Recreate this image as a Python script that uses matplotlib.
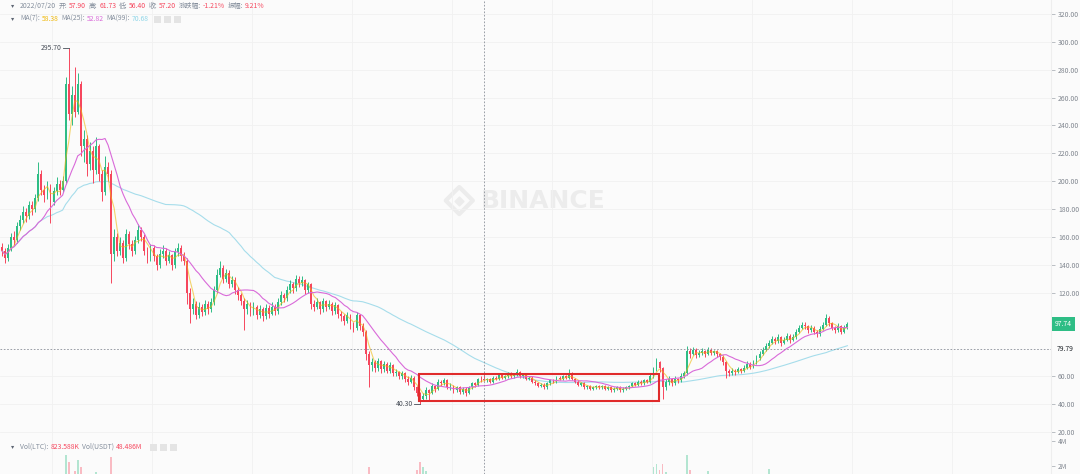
import numpy as np
import pandas as pd
import matplotlib
matplotlib.use("Agg")
import matplotlib.pyplot as plt
from matplotlib.patches import Rectangle

plt.rcParams['font.family'] = ['Noto Sans CJK SC', 'DejaVu Sans']

W, H = 1080, 474
GREEN = '#2EBD85'
RED = '#F6465D'
GRAY = '#848E9C'
BG = '#FBFBFB'

# daily-ish LTC/USDT candles (open = previous close)
first_open = 153.0
closes = [
    150, 145, 152, 160, 158, 168, 172, 178, 175, 183,
    180, 188, 205, 194, 190, 196, 185, 193, 198, 194,
    200, 270, 248, 262, 250, 270, 225, 230, 212, 222,
    208, 225, 205, 192, 210, 205, 148, 160, 150, 156,
    145, 162, 155, 150, 158, 165, 160, 150, 145, 152,
    146, 140, 148, 150, 143, 147, 140, 149, 152, 146,
    143, 120, 108, 112, 104, 110, 106, 112, 108, 113,
    122, 133, 138, 130, 134, 126, 129, 122, 118, 114,
    108, 112, 106, 110, 104, 108, 103, 109, 105, 110,
    107, 113, 118, 116, 122, 126, 123, 130, 127, 129,
    122, 126, 112, 110, 113, 108, 114, 110, 112, 107,
    111, 105, 103, 100, 104, 97, 95, 104, 96, 92,
    76, 68, 70, 66, 71, 65, 69, 64, 68, 62,
    63, 60, 62, 58, 56, 59, 52, 48, 44, 46,
    50, 48, 53, 51, 56, 55, 57, 52, 53, 50,
    52, 49, 51, 48, 52, 55, 54, 58, 57.9, 57.2,
    58, 56, 59, 58, 61, 59, 60, 62, 60, 61,
    63, 60, 61, 58, 59, 56, 55, 53, 54, 52,
    55, 57, 56, 59, 58, 60, 59, 62, 58, 56,
    54, 55, 52, 53, 51, 52, 53, 52, 53, 51,
    52, 50, 51, 52, 50, 51, 52, 53, 55, 54,
    56, 55, 57, 56, 60, 65, 70, 66, 52, 56,
    58, 55, 58, 57, 60, 62, 78, 76, 79, 75,
    77, 78, 76, 79, 77, 78, 76, 74, 70, 64,
    62, 64, 63, 65, 64, 66, 69, 67, 70, 73,
    76, 79, 82, 84, 87, 85, 88, 84, 86, 89,
    86, 88, 92, 95, 97, 96, 93, 95, 92, 90,
    94, 97, 102, 98, 95, 93, 96, 92, 95, 97.74,
]
highs = [
    156, 152, 155, 163, 164, 171, 176, 182, 181, 186,
    186, 191, 214, 208, 197, 200, 198, 196, 203, 201,
    204, 275, 295.7, 268, 282, 278, 272, 237, 233, 228,
    225, 232, 227, 208, 218, 214, 208, 166, 163, 160,
    158, 166, 164, 158, 161, 169, 167, 162, 153, 155,
    154, 148, 151, 154, 152, 150, 148, 152, 156, 154,
    149, 145, 123, 116, 114, 113, 112, 115, 114, 116,
    125, 137, 143, 140, 137, 136, 132, 131, 124, 120,
    116, 115, 113, 113, 111, 111, 110, 112, 111, 113,
    112, 116, 121, 120, 125, 129, 128, 133, 132, 132,
    130, 128, 127, 115, 116, 114, 116, 115, 115, 113,
    113, 112, 107, 105, 106, 105, 99, 106, 105, 98,
    93, 78, 73, 72, 73, 72, 71, 70, 70, 69,
    65, 64, 64, 63, 60, 61, 60, 53, 49, 48,
    52, 51, 55, 54, 58, 57, 59, 58, 55, 54,
    53, 53, 52, 52, 53, 56, 56, 59, 60, 61.73,
    59, 59, 60, 60, 62, 62, 61, 63, 63, 62,
    65, 64, 62, 62, 60, 60, 57, 56, 55, 55,
    56, 58, 58, 60, 60, 61, 61, 65.5, 63, 59,
    57, 56, 56, 54, 54, 53, 54, 54, 54, 54,
    53, 53, 52, 53, 53, 52, 53, 54, 56, 56,
    57, 57, 58, 58, 62, 67, 73, 71, 67, 58,
    60, 59, 60, 59, 62, 64, 82, 80, 81, 80,
    79, 80, 79, 81, 80, 79, 79, 77, 75, 71,
    65, 66, 65, 67, 66, 68, 71, 70, 72, 75,
    78, 81, 84, 86, 89, 88, 90, 89, 88, 91,
    90, 90, 94, 97, 99, 99, 97, 97, 96, 93,
    96, 99, 104.5, 103, 99, 96, 98, 97, 97, 99,
]
lows = [
    146, 141, 143, 150, 154, 156, 165, 170, 171, 173,
    176, 178, 186, 190, 185, 187, 170, 183, 190, 190,
    192, 198, 244, 240, 246, 248, 218, 214, 204, 208,
    199, 205, 200, 186, 190, 200, 127, 143, 146, 147,
    141, 143, 151, 146, 148, 156, 157, 147, 141, 143,
    143, 136, 138, 145, 140, 141, 136, 138, 146, 143,
    140, 112, 98, 105, 101, 102, 103, 104, 105, 106,
    111, 120, 131, 127, 128, 123, 124, 119, 115, 111,
    93, 105, 103, 104, 101, 102, 100, 101, 102, 104,
    104, 105, 111, 113, 114, 120, 120, 121, 124, 125,
    119, 120, 108, 107, 108, 105, 106, 107, 108, 104,
    105, 102, 100, 97, 98, 94, 92, 93, 93, 89,
    72, 52, 64, 63, 64, 62, 63, 62, 62, 60,
    60, 58, 58, 56, 54, 55, 50, 46, 40.3, 42,
    44, 43, 47, 49, 50, 53, 54, 51, 50, 48,
    49, 47, 47, 46, 47, 51, 52, 53, 56, 56.4,
    56, 55, 55, 57, 57, 58, 58, 59, 59, 59,
    60, 59, 59, 57, 57, 55, 54, 52, 52, 51,
    51, 54, 55, 55, 57, 57, 58, 58, 57, 55,
    53, 53, 51, 51, 50, 50, 51, 51, 51, 50,
    50, 49, 49, 50, 49, 49, 50, 51, 52, 53,
    53, 54, 54, 55, 55, 59, 64, 63, 44, 50,
    54, 53, 54, 55, 56, 59, 61, 73, 75, 73,
    74, 75, 74, 75, 75, 75, 74, 72, 68, 59,
    60, 61, 61, 62, 62, 63, 65, 65, 66, 69,
    72, 75, 78, 80, 83, 83, 84, 82, 83, 85,
    84, 85, 87, 91, 94, 94, 91, 92, 90, 88,
    89, 93, 96, 96, 93, 91, 92, 90, 91, 94,
]
# volume in millions of LTC
volume = [
    0.9, 0.8, 0.9, 1.0, 0.8, 1.1, 1.0, 1.2, 0.9, 1.1, 0.9, 1.0, 1.3, 1.1, 0.9, 0.8, 1.2, 0.9, 1.0, 0.9,
    1.0, 2.9, 2.3, 1.4, 1.6, 2.5, 1.9, 1.2, 1.3, 1.0, 1.1, 1.5, 1.0, 1.1, 1.0, 0.9, 2.7, 1.4, 1.0, 0.9,
    0.9, 1.0, 0.8, 0.7, 0.8, 0.9, 0.8, 0.9, 0.8, 0.7, 0.8, 0.9, 0.8, 0.7, 0.8, 0.7, 0.9, 0.8, 0.7, 0.8,
    0.9, 1.2, 1.3, 1.0, 0.9, 0.8, 0.7, 0.8, 0.7, 0.8, 0.9, 1.0, 1.1, 0.9, 0.8, 0.8, 0.7, 0.8, 0.8, 0.9,
    1.1, 0.8, 0.7, 0.8, 0.7, 0.7, 0.8, 0.7, 0.7, 0.8, 0.7, 0.8, 0.9, 0.8, 0.9, 1.0, 0.8, 1.0, 0.9, 0.8,
    0.9, 0.8, 1.1, 0.9, 0.8, 0.8, 0.7, 0.8, 0.7, 0.7, 0.8, 0.8, 0.9, 0.9, 0.8, 1.0, 0.9, 1.0, 0.9, 1.1,
    1.3, 1.9, 1.2, 1.0, 0.9, 1.0, 0.8, 0.9, 0.8, 0.9, 0.8, 0.9, 0.8, 0.9, 1.0, 0.9, 1.2, 1.7, 2.3, 1.9,
    1.6, 1.2, 1.1, 1.0, 1.1, 0.9, 0.9, 1.0, 0.9, 0.8, 0.8, 0.9, 0.8, 0.9, 0.8, 0.9, 0.8, 1.0, 0.9, 0.82,
    0.8, 0.9, 0.8, 0.7, 0.9, 0.8, 0.7, 0.8, 0.7, 0.7, 0.9, 0.8, 0.7, 0.8, 0.7, 0.8, 0.8, 0.9, 0.7, 0.8,
    0.8, 0.7, 0.7, 0.8, 0.7, 0.8, 0.7, 1.0, 0.9, 0.8, 0.8, 0.7, 0.8, 0.7, 0.7, 0.6, 0.7, 0.6, 0.7, 0.6,
    0.6, 0.7, 0.6, 0.7, 0.6, 0.6, 0.7, 0.7, 0.8, 0.7, 0.9, 0.8, 0.9, 0.8, 1.2, 1.9, 2.2, 1.7, 2.2, 1.5,
    1.1, 1.0, 0.9, 0.9, 1.0, 1.1, 2.9, 1.7, 1.3, 1.1, 1.0, 1.0, 0.9, 1.6, 0.9, 0.8, 0.8, 0.9, 1.0, 1.2,
    1.0, 0.9, 0.8, 0.8, 0.8, 0.8, 0.9, 0.8, 0.9, 1.0, 1.1, 1.1, 1.2, 1.8, 1.3, 1.1, 1.0, 1.0, 0.9, 1.0,
    0.9, 0.9, 1.0, 1.1, 1.1, 1.0, 0.9, 0.9, 0.9, 0.8, 0.9, 1.0, 1.2, 1.0, 0.9, 0.8, 0.8, 0.9, 0.8, 0.8,
]

price_ticks = [20, 40, 60, 120, 140, 160, 180, 200, 220, 240, 260, 280, 300, 320]
last_price = 97.74
cross_price = 79.79
cross_idx = 159
peak_idx, peak_val = 22, 295.70
low_idx, low_val = 138, 40.30
box_range = (137.6, 216.8, 42.2, 61.6)

closes = np.array(closes, float)
highs = np.array(highs, float)
lows = np.array(lows, float)
volume = np.array(volume, float)
opens = np.r_[first_open, closes[:-1]]
idx = np.arange(len(closes))
up = closes >= opens
colors = np.where(up, GREEN, RED)

FS = 4.9

fig = plt.figure(figsize=(W / 100, H / 100), dpi=100, facecolor=BG)
ax_w = 1051 / W
ax = fig.add_axes([0, 38 / H, ax_w, 436 / H], facecolor=BG)
axv = fig.add_axes([0, 0, ax_w, 38 / H], facecolor=BG, sharex=ax)

# candles
ax.vlines(idx, lows, highs, colors=colors, lw=0.7, zorder=3)
ax.bar(idx, np.maximum(np.abs(closes - opens), 0.35), bottom=np.minimum(opens, closes),
       width=0.62, color=colors, lw=0, zorder=4)

# moving averages (windows scaled to the candle spacing of this chart)
s = pd.Series(closes)
ax.plot(idx, s.rolling(4, min_periods=1).mean(), color='#F0B90B', lw=0.8, alpha=0.6, zorder=5)
ax.plot(idx, s.rolling(14, min_periods=1).mean(), color='#D96AD9', lw=0.8, zorder=5)
ax.plot(idx, s.rolling(55, min_periods=1).mean(), color='#A6DDEB', lw=0.8, zorder=2)

ax.set_xlim(-0.66, 346.2)
ax.set_ylim(17.13, 330.05)
ax.set_xticks(np.arange(16.5, 346, 33))
ax.yaxis.tick_right()
ax.set_yticks(price_ticks)
ax.set_yticklabels([f'{t:.2f}' for t in price_ticks])
ax.tick_params(axis='y', labelsize=FS, colors='#A0A5AD', labelcolor='#80868F', length=3, width=0.5, pad=2)
ax.tick_params(axis='x', length=0, labelbottom=False)
ax.grid(True, color='#F1F1F1', lw=0.6, zorder=0)
for sp in ['top', 'left', 'bottom']:
    ax.spines[sp].set_visible(False)
ax.spines['right'].set_color('#EEEEEE')

# volume pane
axv.bar(idx, volume, width=0.62, color=colors, alpha=0.35, lw=0)
axv.set_ylim(1.36, 4.4)
axv.yaxis.tick_right()
axv.set_yticks([2, 4])
axv.set_yticklabels(['2M', '4M'])
axv.tick_params(axis='y', labelsize=FS, colors='#A0A5AD', labelcolor='#80868F', length=3, width=0.5, pad=2)
axv.tick_params(axis='x', length=0, labelbottom=False)
axv.grid(True, axis='x', color='#F1F1F1', lw=0.6, zorder=0)
for sp in ['top', 'left', 'bottom']:
    axv.spines[sp].set_visible(False)
axv.spines['right'].set_color('#EEEEEE')

# crosshair
for a in (ax, axv):
    a.axvline(cross_idx, color='#8A8F98', lw=0.6, ls=(0, (2, 2)), zorder=6)
ax.axhline(cross_price, color='#8A8F98', lw=0.6, ls=(0, (2, 2)), zorder=6)

# highlighted range
ax.add_patch(Rectangle((box_range[0], box_range[2]), box_range[1] - box_range[0],
                       box_range[3] - box_range[2], fill=False, ec='#E02B2B', lw=1.5, zorder=7))

# high / low markers
ax.plot([peak_idx - 2.0, peak_idx], [peak_val, peak_val], color='#474D57', lw=0.6, zorder=6)
ax.text(peak_idx - 2.2, peak_val, f'{peak_val:.2f}', ha='right', va='center', fontsize=FS, color='#474D57')
ax.plot([low_idx - 2.0, low_idx], [low_val, low_val], color='#474D57', lw=0.6, zorder=6)
ax.text(low_idx - 2.2, low_val, f'{low_val:.2f}', ha='right', va='center', fontsize=FS, color='#474D57')

# right-axis price labels
yt = ax.get_yaxis_transform()
ax.text(1.004, last_price, f'{last_price:.2f}', transform=yt, ha='left', va='center', fontsize=FS,
        color='white', bbox=dict(boxstyle='square,pad=0.45', fc=GREEN, ec='none'), zorder=8)
ax.text(1.005, cross_price, f'{cross_price:.2f}', transform=yt, ha='left', va='center', fontsize=FS,
        color='#1E2329', zorder=8)

# watermark
ax.text(0.517, 0.54, 'BINANCE', transform=ax.transAxes, fontsize=18, fontweight='bold',
        color='#ECECEC', ha='center', va='center', family='DejaVu Sans', zorder=1)
ax.scatter([0.437], [0.54], transform=ax.transAxes, marker='D', s=190, facecolor='none',
           edgecolor='#ECECEC', lw=3, zorder=1)
ax.scatter([0.437], [0.54], transform=ax.transAxes, marker='D', s=20, color='#ECECEC', zorder=1)

# header rows
renderer = fig.canvas.get_renderer()


def text_row(y_px, pieces, x_px=20, fs=FS, gap=2.2):
    fig.text(11 / W, 1 - y_px / H, '▾', fontsize=4.6, color='#5E6673', va='center', ha='left',
             family=['DejaVu Sans'])
    x = x_px
    for s_, c in pieces:
        t = fig.text(x / W, 1 - y_px / H, s_, fontsize=fs, color=c, va='center', ha='left')
        x += t.get_window_extent(renderer=renderer).width + gap
    return x


text_row(6, [('2022/07/20', GRAY), ('开:', GRAY), ('57.90', RED), ('高:', GRAY), ('61.73', RED),
             ('低:', GRAY), ('56.40', RED), ('收:', GRAY), ('57.20', RED), ('涨跌幅:', GRAY),
             ('-1.21%', RED), ('振幅:', GRAY), ('9.21%', RED)])
xe = text_row(19, [('MA(7):', GRAY), ('58.38', '#F0B90B'), ('MA(25):', GRAY), ('52.82', '#D96AD9'),
                   ('MA(99):', GRAY), ('70.68', '#8FD6E8')])
for k in range(3):
    fig.patches.append(Rectangle(((xe + 3 + k * 10) / W, 1 - 23 / H), 7 / W, 7 / H,
                                 transform=fig.transFigure, fc='#E4E4E4', ec='none'))
xe = text_row(447, [('Vol(LTC):', GRAY), ('823.588K', RED), ('Vol(USDT)', GRAY), ('48.486M', RED)])
for k in range(3):
    fig.patches.append(Rectangle(((xe + 6 + k * 10) / W, 1 - 451 / H), 7 / W, 7 / H,
                                 transform=fig.transFigure, fc='#E4E4E4', ec='none'))

fig.savefig('out.png', dpi=100, facecolor=BG)
plt.close(fig)
